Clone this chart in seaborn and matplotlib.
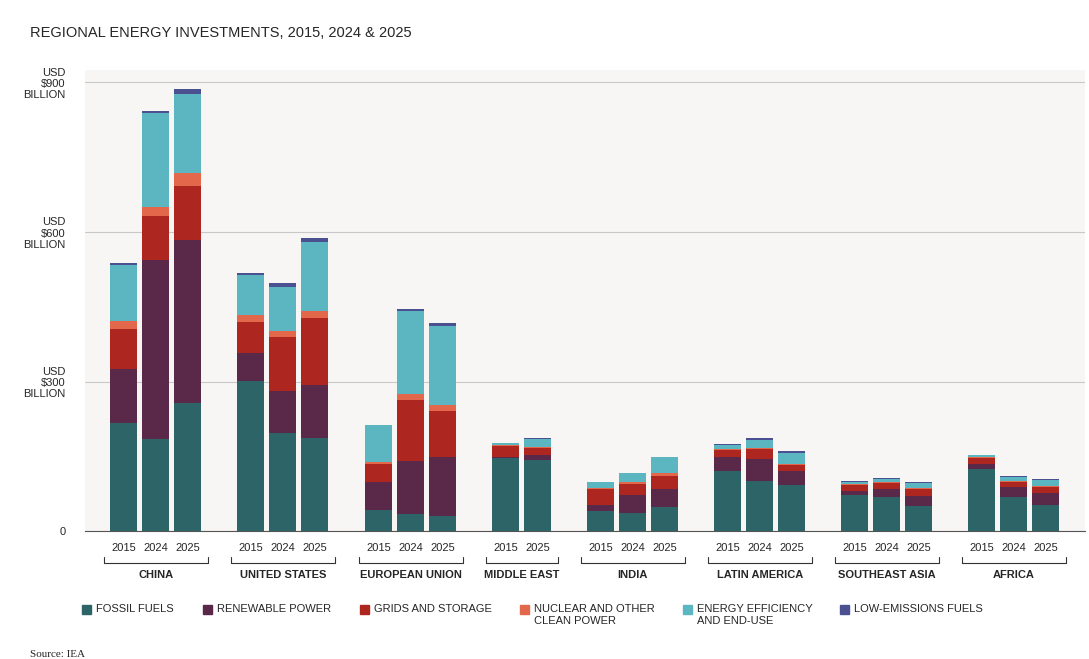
import numpy as np
import pandas as pd
import matplotlib.pyplot as plt
import matplotlib.transforms as mtransforms
from matplotlib.patches import Rectangle
import seaborn as sns

regions = ["CHINA", "UNITED STATES", "EUROPEAN UNION", "MIDDLE EAST", "INDIA",
           "LATIN AMERICA", "SOUTHEAST ASIA", "AFRICA"]
region_years = [["2015", "2024", "2025"], ["2015", "2024", "2025"], ["2015", "2024", "2025"],
                ["2015", "2025"], ["2015", "2024", "2025"], ["2015", "2024", "2025"],
                ["2015", "2024", "2025"], ["2015", "2024", "2025"]]
sectors = ["FOSSIL FUELS", "RENEWABLE POWER", "GRIDS AND STORAGE",
           "NUCLEAR AND OTHER\nCLEAN POWER", "ENERGY EFFICIENCY\nAND END-USE", "LOW-EMISSIONS FUELS"]
colors = ["#2d6468", "#5a2848", "#ae2620", "#e3674b", "#5cb6c1", "#4b5090"]

# investment by sector (USD billion), one value per bar
fossil   = [217, 185, 257, 301, 197, 187, 42, 34, 30, 146, 143, 40, 36, 48, 120, 100, 92, 72, 68, 50, 124, 68, 52]
renew    = [108, 359, 327, 56, 84, 106, 56, 106, 119, 2, 10, 12, 36, 36, 28, 44, 28, 8, 16, 20, 10, 20, 24]
grids    = [80, 88, 109, 63, 109, 135, 36, 123, 92, 23, 14, 32, 22, 26, 15, 21, 12, 12, 12, 14, 12, 10, 12]
nuclear  = [16, 18, 26, 14, 12, 14, 4, 12, 12, 2, 2, 2, 4, 6, 2, 2, 2, 2, 2, 2, 2, 2, 2]
effic    = [113, 189, 158, 80, 88, 138, 75, 167, 159, 4, 16, 12, 18, 32, 8, 16, 23, 4, 6, 10, 4, 8, 12]
lowem    = [4, 4, 10, 4, 8, 8, 0, 4, 6, 0, 2, 0, 0, 0, 2, 4, 4, 2, 3, 3, 0, 2, 2]
series = [fossil, renew, grids, nuclear, effic, lowem]

# bar centre positions (layout)
group_start = [124, 251, 379, 506, 601, 728, 855, 982]
xs, labels_year, group_of = [], [], []
for g, (start, yrs) in enumerate(zip(group_start, region_years)):
    for k, y in enumerate(yrs):
        xs.append(start + 32 * k)
        labels_year.append(y)
        group_of.append(g)

df = pd.DataFrame({s: v for s, v in zip(sectors, series)})
df["x"] = xs

sns.set_style("white")
plt.rcParams["font.family"] = ["Liberation Sans", "DejaVu Sans"]

fig = plt.figure(figsize=(10.89, 6.59), dpi=100)
ax = fig.add_axes([0.078, 0.194, 0.918, 0.70])
ax.set_facecolor("#f7f6f4")
bottom = np.zeros(len(df))
for s, c in zip(sectors, colors):
    ax.bar(df["x"], df[s], bottom=bottom, width=27, color=c, zorder=3, linewidth=0)
    bottom += df[s].values

ax.set_xlim(85, 1085)
ax.set_ylim(0, 925)
ax.set_yticks([0, 300, 600, 900])
ax.set_yticklabels(["0", "USD\n$300\nBILLION", "USD\n$600\nBILLION", "USD\n$900\nBILLION"],
                   fontsize=8, linespacing=1.15)
ax.yaxis.grid(True, color="#c8c8c8", lw=0.8, zorder=0)
ax.tick_params(axis="y", length=0, pad=14)
ax.set_xticks([])
for sp in ["top", "right", "left"]:
    ax.spines[sp].set_visible(False)
ax.spines["bottom"].set_color("#555555")

trans = mtransforms.blended_transform_factory(ax.transData, ax.transAxes)
for x, y in zip(xs, labels_year):
    ax.text(x, -0.037, y, transform=trans, ha="center", va="center", fontsize=8)
for g, name in enumerate(regions):
    gx = [x for x, gg in zip(xs, group_of) if gg == g]
    x0, x1 = gx[0] - 20, gx[-1] + 20
    ax.plot([x0, x0, x1, x1], [-0.056, -0.068, -0.068, -0.056], transform=trans,
            color="#333333", lw=0.8, clip_on=False)
    ax.text((gx[0] + gx[-1]) / 2, -0.095, name, transform=trans, ha="center", va="center",
            fontsize=8, fontweight="bold")

fig.text(0.028, 0.95, "REGIONAL ENERGY INVESTMENTS, 2015, 2024 & 2025", fontsize=10.5, va="center")

leg_x = [82, 203, 360, 520, 683, 840]
for lx, lab, c in zip(leg_x, sectors, colors):
    fig.patches.append(Rectangle((lx / 1089, 1 - 614 / 659), 9 / 1089, 9 / 659,
                                 transform=fig.transFigure, color=c))
    fig.text((lx + 14) / 1089, 1 - 604 / 659, lab, fontsize=8, va="top", linespacing=1.25)
fig.text(0.028, 0.003, "Source: IEA", fontsize=8, family="Liberation Serif")

fig.savefig("out.png", dpi=100, facecolor="white")
